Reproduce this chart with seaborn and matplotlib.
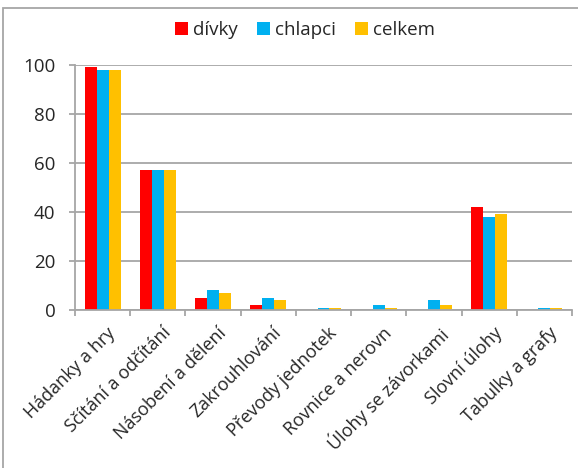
import numpy as np
import pandas as pd
import matplotlib.pyplot as plt
import matplotlib.transforms as mtransforms
import seaborn as sns
from matplotlib.patches import Rectangle

# ---- data ----
categories = [
    "Hádanky a hry",
    "Sčítání a odčítání",
    "Násobení a dělení",
    "Zakrouhlování",
    "Převody jednotek",
    "Rovnice a nerovn",
    "Úlohy se závorkami",
    "Slovní úlohy",
    "Tabulky a grafy",
]
divky   = [99, 57, 5, 2, 0, 0, 0, 42, 0]
chlapci = [98, 57, 8, 5, 1, 2, 4, 38, 1]
celkem  = [98, 57, 7, 4, 1, 1, 2, 39, 1]
series = ["dívky", "chlapci", "celkem"]
yticks = [0, 20, 40, 60, 80, 100]

df = pd.DataFrame({
    "kategorie": categories * 3,
    "skupina": [s for s in series for _ in categories],
    "hodnota": divky + chlapci + celkem,
})

# ---- style ----
sns.set_style("white")
plt.rcParams["font.family"] = ["Open Sans", "DejaVu Sans"]
palette = dict(zip(series, ["#FF0000", "#00B0F0", "#FFC000"]))
grid_gray = "#A6A6A6"

fig = plt.figure(figsize=(5.78, 4.68), dpi=100)
ax = fig.add_axes([75 / 578, 1 - 310 / 468, 497 / 578, 245 / 468])

sns.barplot(
    data=df, x="kategorie", y="hodnota",
    hue="skupina", hue_order=series, palette=palette,
    order=categories, width=0.65, gap=0, saturation=1,
    edgecolor="none", ax=ax, legend=True,
)

# ---- axes ----
ax.set_ylim(0, 100)
ax.set_xlim(-0.5, len(categories) - 0.5)
ax.set_yticks(yticks)
ax.set_xlabel("")
ax.set_ylabel("")
ax.yaxis.grid(True, color=grid_gray, linewidth=1.3)
ax.set_axisbelow(True)
for side in ["top", "right"]:
    ax.spines[side].set_visible(False)
for side in ["left", "bottom"]:
    ax.spines[side].set_color(grid_gray)
    ax.spines[side].set_linewidth(1.3)

ax.tick_params(axis="y", length=4, width=1.3, color=grid_gray,
               pad=10, labelsize=13.5, left=True)
ax.tick_params(axis="x", which="major", length=0, pad=10, labelsize=13)
ax.set_xticks(np.arange(-0.5, len(categories)), minor=True)
ax.tick_params(axis="x", which="minor", length=4, width=1.3,
               color=grid_gray, bottom=True)
shift = mtransforms.ScaledTranslation(4 / 100, 0, fig.dpi_scale_trans)
for lab in ax.get_xticklabels():
    lab.set_rotation(45)
    lab.set_ha("right")
    lab.set_rotation_mode("anchor")
    lab.set_transform(lab.get_transform() + shift)

# ---- legend ----
leg = ax.legend(
    loc="center", bbox_to_anchor=(305 / 578, 1 - 30 / 468),
    bbox_transform=fig.transFigure, ncol=3, frameon=False,
    fontsize=13.5, handlelength=0.68, handleheight=0.68,
    handletextpad=0.3, columnspacing=1.0, title=None,
)

# ---- outer chart border ----
fig.patches.append(Rectangle(
    (3 / 578, -0.1), 1.2, 1 - 8 / 468 + 0.1,
    transform=fig.transFigure, fill=False,
    edgecolor=grid_gray, linewidth=1.3, clip_on=False,
))

fig.savefig("out.png", dpi=100)
